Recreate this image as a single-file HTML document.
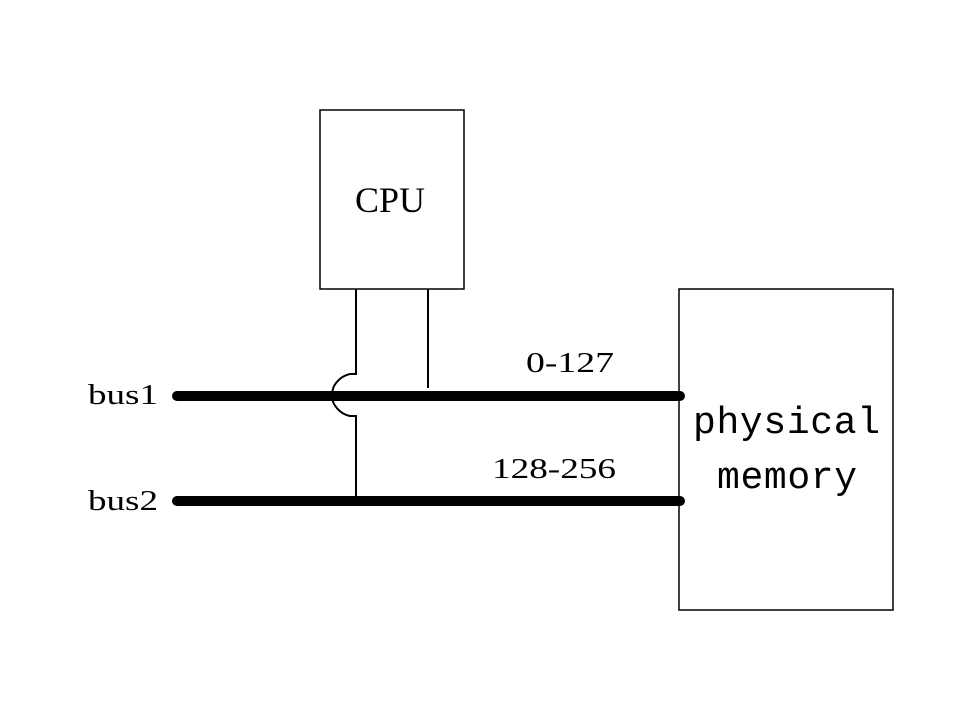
<!DOCTYPE html>
<html><head><style>html,body{margin:0;padding:0;background:#fff}</style></head>
<body>
<svg width="959" height="719" viewBox="0 0 959 719" xmlns="http://www.w3.org/2000/svg" font-family="'Liberation Serif','Noto Serif CJK SC',serif">
<rect x="0" y="0" width="959" height="719" fill="#fff"/>
<rect x="320" y="110" width="144" height="179" fill="none" stroke="#000" stroke-width="1.5"/>
<rect x="679" y="289" width="214" height="321" fill="none" stroke="#000" stroke-width="1.5"/>
<path d="M356 289 V374 H350 Q340 376 334 386 Q330 396 334 404 Q340 414 350 416 H356 V497" fill="none" stroke="#000" stroke-width="2"/>
<line x1="428" y1="289" x2="428" y2="388" stroke="#000" stroke-width="2"/>
<line x1="177" y1="396" x2="680" y2="396" stroke="#000" stroke-width="10" stroke-linecap="round"/>
<line x1="177" y1="501" x2="680" y2="501" stroke="#000" stroke-width="10" stroke-linecap="round"/>
<text x="355" y="212" font-size="36" textLength="70" lengthAdjust="spacingAndGlyphs">CPU</text>
<text x="88" y="404" font-size="28" textLength="70" lengthAdjust="spacingAndGlyphs">bus1</text>
<text x="88" y="510" font-size="28" textLength="70" lengthAdjust="spacingAndGlyphs">bus2</text>
<text x="526" y="372" font-size="28" textLength="88" lengthAdjust="spacingAndGlyphs">0-127</text>
<text x="492" y="478" font-size="28" textLength="124" lengthAdjust="spacingAndGlyphs">128-256</text>
<text x="693" y="433" font-size="38" font-family="'Liberation Mono',monospace" textLength="187" lengthAdjust="spacing">physical</text>
<text x="717" y="488" font-size="38" font-family="'Liberation Mono',monospace" textLength="140" lengthAdjust="spacing">memory</text>
</svg>
</body></html>
